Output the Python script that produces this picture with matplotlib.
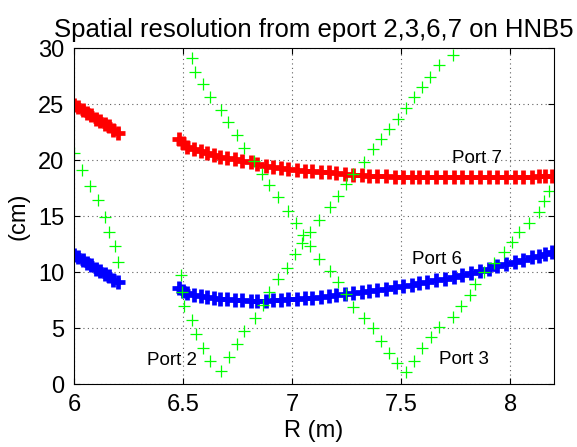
import numpy as np
import matplotlib
matplotlib.use("Agg")
import matplotlib.pyplot as plt

# eport 7 (red) and eport 6 (blue): resolution along R, two viewing segments
r_seg1 = [6.00, 6.02, 6.04, 6.06, 6.08, 6.10, 6.12, 6.14, 6.16, 6.18, 6.20]
port7_seg1 = [24.9, 24.7, 24.5, 24.2, 24.0, 23.7, 23.5, 23.2, 23.0, 22.7, 22.4]
port6_seg1 = [11.5, 11.3, 11.1, 10.8, 10.6, 10.3, 10.1, 9.8, 9.6, 9.3, 9.1]

r_seg2 = [6.48, 6.50, 6.52, 6.55, 6.58, 6.61, 6.64, 6.67, 6.70, 6.74,
          6.77, 6.81, 6.84, 6.88, 6.91, 6.95, 6.98, 7.02, 7.06, 7.09,
          7.13, 7.17, 7.20, 7.24, 7.28, 7.32, 7.35, 7.39, 7.43, 7.47,
          7.51, 7.55, 7.58, 7.62, 7.66, 7.70, 7.74, 7.78, 7.82, 7.86,
          7.90, 7.94, 7.98, 8.02, 8.06, 8.10, 8.13, 8.16, 8.19]
port7_seg2 = [21.9, 21.5, 21.2, 21.0, 20.8, 20.6, 20.45, 20.3, 20.2, 20.05,
              19.9, 19.8, 19.65, 19.5, 19.4, 19.3, 19.2, 19.1, 19.05, 19.0,
              18.95, 18.9, 18.8, 18.75, 18.7, 18.65, 18.6, 18.6, 18.55, 18.5,
              18.5, 18.5, 18.5, 18.5, 18.5, 18.5, 18.5, 18.5, 18.5, 18.5,
              18.5, 18.5, 18.5, 18.5, 18.5, 18.5, 18.55, 18.55, 18.55]
port6_seg2 = [8.6, 8.3, 8.1, 7.95, 7.85, 7.75, 7.7, 7.6, 7.55, 7.5,
              7.48, 7.45, 7.44, 7.45, 7.48, 7.5, 7.55, 7.6, 7.65, 7.7,
              7.78, 7.85, 7.93, 8.0, 8.1, 8.2, 8.3, 8.4, 8.5, 8.62,
              8.75, 8.88, 9.0, 9.12, 9.27, 9.42, 9.57, 9.72, 9.95, 10.12,
              10.3, 10.5, 10.7, 10.9, 11.1, 11.3, 11.45, 11.62, 11.8]

# eport 2 and eport 3 (green)
r_port2 = [6.000, 6.035, 6.073, 6.112, 6.142, 6.162, 6.190, 6.200,
           6.491, 6.497, 6.506, 6.543, 6.558, 6.593, 6.625, 6.673, 6.710, 6.745,
           6.781, 6.829, 6.868, 6.896, 6.933, 6.977, 7.015, 7.047, 7.083, 7.121,
           7.174, 7.212, 7.248, 7.281, 7.330, 7.369, 7.407, 7.445, 7.483, 7.523,
           7.560, 7.595, 7.633, 7.674, 7.736]
port2 = [20.6, 19.1, 17.7, 16.4, 14.9, 13.6, 12.3, 10.9,
         9.73, 8.24, 6.96, 5.71, 4.46, 3.21, 2.05, 1.16, 2.44, 3.54,
         4.76, 5.86, 7.05, 8.21, 9.35, 10.38, 11.58, 12.56, 13.6, 14.6,
         15.8, 16.8, 17.86, 18.75, 19.85, 20.96, 21.85, 22.77, 23.7, 24.67,
         25.65, 26.55, 27.4, 28.5, 29.4]

r_port3 = [6.540, 6.555, 6.590, 6.624, 6.673, 6.708, 6.746, 6.777, 6.827, 6.861,
           6.896, 6.933, 6.983, 7.018, 7.050, 7.083, 7.125, 7.174, 7.210, 7.246,
           7.281, 7.330, 7.369, 7.407, 7.445, 7.480, 7.523, 7.560, 7.595, 7.636,
           7.674, 7.736, 7.774, 7.817, 7.839, 7.881, 7.923, 7.969, 8.008, 8.038,
           8.084, 8.130, 8.156, 8.176]
port3 = [29.1, 27.9, 26.8, 25.6, 24.5, 23.4, 22.2, 21.1, 19.9, 18.75,
         17.77, 16.67, 15.47, 14.4, 13.3, 12.3, 11.13, 10.09, 9.08, 8.01,
         6.9, 5.87, 4.97, 3.87, 2.8, 1.85, 1.1, 2.08, 3.19, 4.17,
         5.12, 6.0, 6.96, 7.95, 8.93, 10.03, 10.78, 11.8, 12.7, 13.6,
         14.4, 15.4, 16.3, 17.2]

port_labels = ["Port 2", "Port 3", "Port 6", "Port 7"]
label_r = [6.333, 7.671, 7.549, 7.733]
label_res = [2.14, 2.23, 11.16, 20.1]

plt.rcParams["font.family"] = ["Liberation Sans", "DejaVu Sans"]

fig = plt.figure(figsize=(5.77, 4.47), dpi=100)
ax = fig.add_axes([0.1282, 0.1409, 0.8319, 0.7517])

thick = dict(linestyle="none", marker="+", markersize=9.5, markeredgewidth=3.4)
ax.plot(r_seg1, port7_seg1, color="#ff0000", **thick)
ax.plot(r_seg2, port7_seg2, color="#ff0000", **thick)
ax.plot(r_seg1, port6_seg1, color="#0000ff", **thick)
ax.plot(r_seg2, port6_seg2, color="#0000ff", **thick)

thin = dict(linestyle="none", marker="+", markersize=8, markeredgewidth=0.9,
            color="#00ff00")
ax.plot(r_port2, port2, **thin)
ax.plot(r_port3, port3, **thin)

for name, r, res in zip(port_labels, label_r, label_res):
    ax.text(r, res, name, fontsize=13.5, ha="left", va="center")

ax.set_xlim(6, 8.2)
ax.set_ylim(0, 30)
ax.set_xticks([6, 6.5, 7, 7.5, 8])
ax.set_xticklabels(["6", "6.5", "7", "7.5", "8"])
ax.set_yticks([0, 5, 10, 15, 20, 25, 30])
ax.tick_params(direction="in", top=True, right=True, length=4, width=0.8,
               labelsize=17, pad=7)
ax.grid(True, linestyle=(0, (1, 3)), color="#606060", linewidth=0.8)
for s in ax.spines.values():
    s.set_linewidth(0.8)

ax.set_title("Spatial resolution from eport 2,3,6,7 on HNB5", fontsize=18.5, pad=8)
ax.set_xlabel("R (m)", fontsize=17, labelpad=3)
ax.set_ylabel("(cm)", fontsize=17, labelpad=6)

fig.savefig("out.png", dpi=100)
